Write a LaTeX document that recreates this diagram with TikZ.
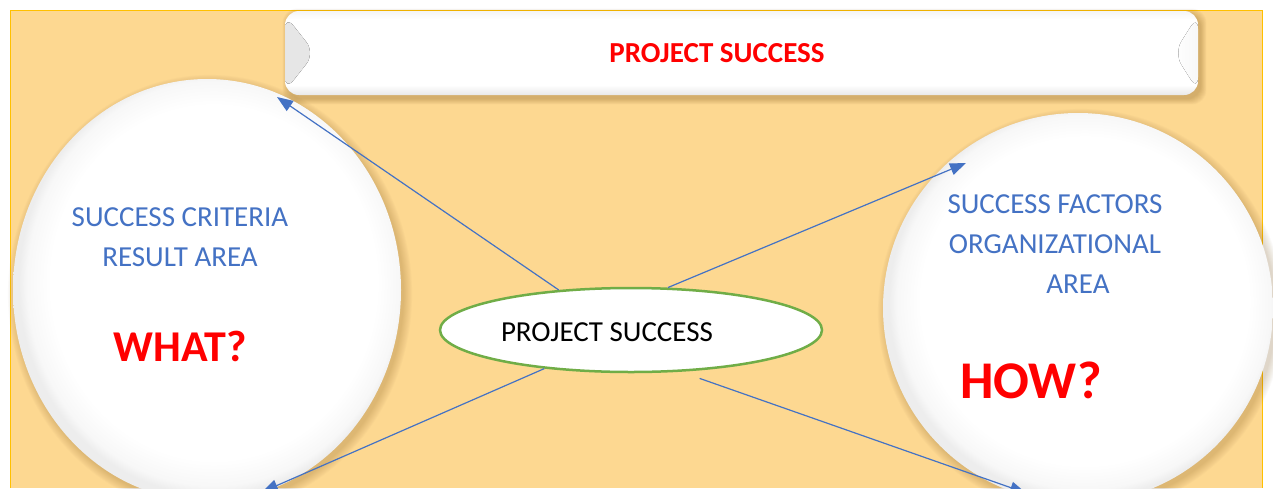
\documentclass[tikz,border=0pt]{standalone}
\usepackage{fontspec}
\setmainfont{Carlito}
\usetikzlibrary{arrows.meta,shapes.geometric}

\definecolor{bgorange}{RGB}{253,216,145}
\definecolor{goldline}{RGB}{255,192,0}
\definecolor{accentblue}{RGB}{68,114,196}
\definecolor{leafgreen}{RGB}{112,173,71}
\definecolor{shadowbrown}{RGB}{120,80,20}

% white disc with a thin soft grey rim
\pgfdeclareradialshading{discshade}{\pgfpoint{1.5bp}{1.5bp}}{%
  color(0bp)=(white); color(21bp)=(white); color(24bp)=(black!3);
  color(25bp)=(black!7); color(50bp)=(black!7)}
% white banner, slightly darker along its top and bottom edges
\pgfdeclareverticalshading{bannershade}{100bp}{%
  color(0bp)=(black!9); color(25bp)=(black!9); color(31bp)=(white);
  color(70bp)=(white); color(75bp)=(black!4); color(100bp)=(black!4)}

\begin{document}
\begin{tikzpicture}[x=1pt,y=-1pt,
  disc/.style={ellipse, inner sep=0pt, outer sep=0pt, shading=discshade},
  blurb/.style={font=\fontsize{29}{30}\selectfont, text=accentblue, inner sep=0pt},
  question/.style={font=\bfseries\fontsize{#1}{#1}\selectfont, text=red, inner sep=0pt},
  link/.style={draw=accentblue, line width=1.2pt, -{Triangle[length=16pt,width=12pt]}},
]
\useasboundingbox (0,0) rectangle (1273,488);
\fill[white] (0,0) rectangle (1273,488);

% panel
\fill[bgorange] (10,10) rectangle (1262,488);
\draw[goldline, line width=1pt] (10,488) -- (10,10) -- (1262,10) -- (1262,488);

% soft shadows under the discs and the banner
\foreach \i in {0,...,9} {
  \fill[shadowbrown, opacity=0.025] (210,294) ellipse [x radius=194+\i*0.9, y radius=211+\i*0.9];
  \fill[shadowbrown, opacity=0.025] (1081,312) circle [radius=195+\i*0.9];
  \fill[shadowbrown, opacity=0.03, rounded corners=14pt]
    (288-\i*0.6,14-\i*0.6) rectangle (1201+\i*0.6,99+\i*0.6);
}

% discs
\node[disc, minimum width=388pt, minimum height=422pt] (lc) at (207,290) {};
\node[disc, minimum width=390pt, minimum height=390pt] (rc) at (1078,308) {};

% banner with bevelled ends
\node[rectangle, rounded corners=14pt, minimum width=913pt, minimum height=84pt,
      inner sep=0pt, outer sep=0pt, shading=bannershade,
      path picture={
        \fill[left color=black!10, right color=white]
          ([yshift=-4pt]path picture bounding box.north west) --
          ([xshift=30pt]path picture bounding box.west) --
          ([yshift=4pt]path picture bounding box.south west) -- cycle;
        \fill[left color=white, right color=black!3]
          ([yshift=-4pt]path picture bounding box.north east) --
          ([xshift=-24pt]path picture bounding box.east) --
          ([yshift=4pt]path picture bounding box.south east) -- cycle;
      }] (bar) at (741.5,53) {};
\node[question=29] (bartitle) at (717,53) {PROJECT SUCCESS};

% central ellipse
\node[ellipse, draw=leafgreen, line width=2.5pt, fill=white,
      minimum width=382pt, minimum height=84pt, inner sep=0pt] (mid) at (631,330) {};
\node[font=\fontsize{29}{30}\selectfont, inner sep=0pt] (midtitle) at (607,332) {PROJECT SUCCESS};

% left disc text
\node[blurb] (crit) at (180,217) {SUCCESS CRITERIA};
\node[blurb] (res) at (180,257) {RESULT AREA};
\node[question=44] (what) at (180,346) {WHAT?};

% right disc text
\node[blurb] (fact) at (1055,204) {SUCCESS FACTORS};
\node[blurb] (org) at (1055,244) {ORGANIZATIONAL};
\node[blurb] (area) at (1078,284) {AREA};
\node[question=53] (how) at (1031,380) {HOW?};

% connectors
\coordinate (tipA) at (277,97);
\coordinate (tipB) at (966,163);
\coordinate (tipC) at (262,492);
\coordinate (tipD) at (1026,493);
\draw[link] (mid.151) -- (tipA);
\draw[link] (mid.49) -- (tipB);
\draw[link] (mid.204) -- (tipC);
\draw[link, shorten <=20pt] (mid.-40) -- (tipD);
\end{tikzpicture}
\end{document}
